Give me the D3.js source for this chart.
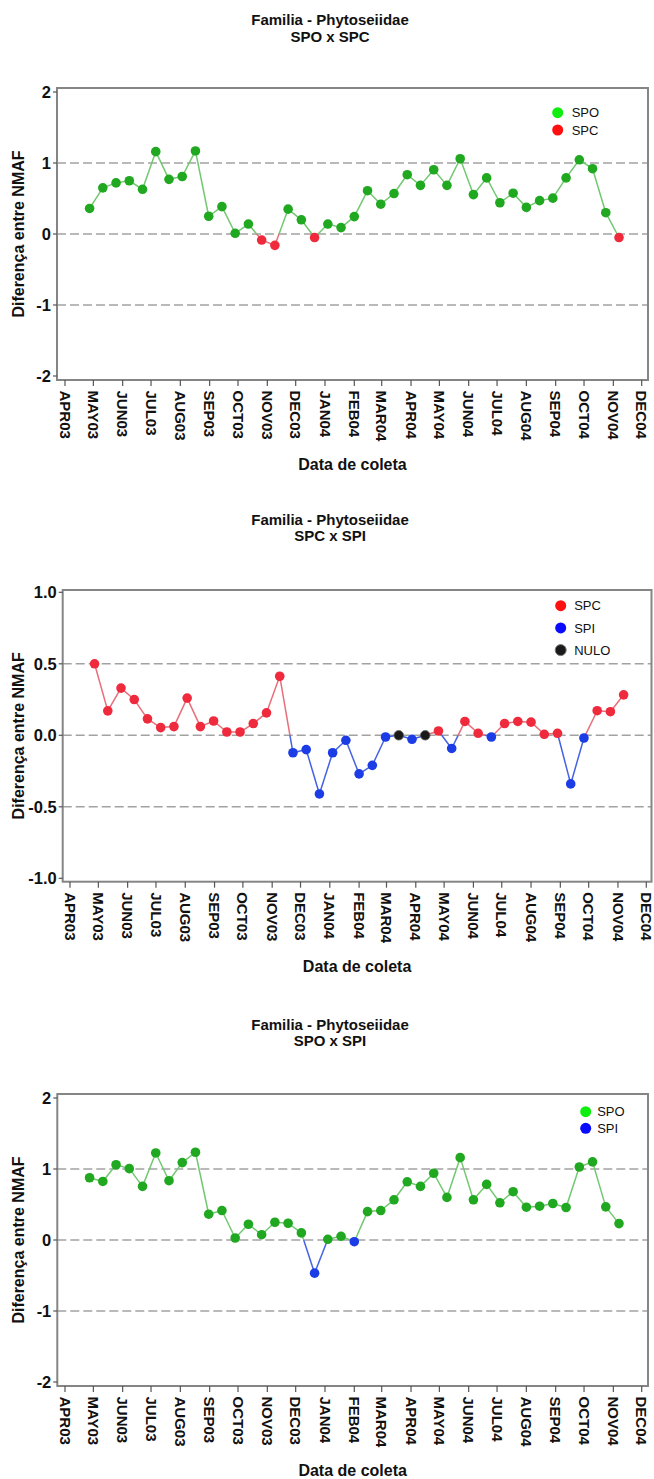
<!DOCTYPE html>
<html><head><meta charset="utf-8">
<script src="https://cdn.jsdelivr.net/npm/d3@7"></script>
<style>
body{margin:0;background:#fff}
svg{display:block}
text{font-family:Arial,"Liberation Sans",sans-serif;fill:#111}
</style>
</head><body>
<svg id="c" width="654" height="1479"></svg>
<script>
// ---- data ----
const sampleDates = ["2003-04-27","2003-05-11","2003-05-25","2003-06-08","2003-06-22","2003-07-06","2003-07-20","2003-08-03","2003-08-17","2003-08-31","2003-09-14","2003-09-28","2003-10-12","2003-10-26","2003-11-09","2003-11-23","2003-12-07","2003-12-21","2004-01-04","2004-01-18","2004-02-01","2004-02-15","2004-02-29","2004-03-14","2004-03-28","2004-04-11","2004-04-25","2004-05-09","2004-05-23","2004-06-06","2004-06-20","2004-07-04","2004-07-18","2004-08-01","2004-08-15","2004-08-29","2004-09-12","2004-09-26","2004-10-10","2004-10-24","2004-11-07"];
const monthLabels = ["APR03","MAY03","JUN03","JUL03","AUG03","SEP03","OCT03","NOV03","DEC03","JAN04","FEB04","MAR04","APR04","MAY04","JUN04","JUL04","AUG04","SEP04","OCT04","NOV04","DEC04"];
const spoVsSpc = [0.36,0.65,0.72,0.75,0.63,1.16,0.77,0.81,1.17,0.25,0.385,0.01,0.14,-0.085,-0.16,0.35,0.20,-0.05,0.14,0.09,0.245,0.61,0.42,0.57,0.835,0.685,0.905,0.685,1.06,0.555,0.79,0.44,0.575,0.375,0.47,0.505,0.79,1.045,0.92,0.30,-0.05];
const spcVsSpi = [0.50,0.171,0.33,0.25,0.115,0.054,0.061,0.26,0.061,0.10,0.023,0.023,0.082,0.157,0.413,-0.122,-0.10,-0.41,-0.122,-0.035,-0.27,-0.21,-0.012,0,-0.028,0,0.03,-0.092,0.097,0.014,-0.012,0.082,0.097,0.092,0.007,0.014,-0.34,-0.019,0.172,0.165,0.283];
const spoVsSpi = [0.877,0.825,1.06,1.005,0.755,1.226,0.835,1.09,1.236,0.363,0.415,0.028,0.222,0.075,0.25,0.236,0.10,-0.467,0.01,0.052,-0.024,0.40,0.415,0.566,0.82,0.755,0.94,0.60,1.16,0.566,0.783,0.524,0.68,0.462,0.476,0.514,0.458,1.028,1.10,0.467,0.231];
const ticksWide = [-2,-1,0,1,2];
const gridWide = [-1,0,1];
const ticksNarrow = [-1,-0.5,0,0.5,1];
const gridNarrow = [-0.5,0,0.5];
const titleLine1 = "Familia - Phytoseiidae";
const subtitles = ["SPO x SPC","SPC x SPI","SPO x SPI"];

// ---- styles ----
const COL = {
  SPO:{pt:"#20a820", ln:"#72c872", lg:"#10ee10"},
  SPC:{pt:"#ee2a3c", ln:"#e86e7a", lg:"#ff1010"},
  SPI:{pt:"#1c3ce6", ln:"#4462e2", lg:"#0a0aff"},
  NULO:{pt:"#1a1a1a", ln:"#333", lg:"#1a1a1a"}
};

const loc = d3.formatLocale({decimal:".", thousands:",", grouping:[3], currency:["",""], minus:"-"});
const parse = d3.timeParse("%Y-%m-%d");
const dates = sampleDates.map(parse);
const tickDates = d3.timeMonth.range(new Date(2003,3,1), new Date(2004,11,2));
const svg = d3.select("#c");

const panels = [
  {values:spoVsSpc, pos:"SPO", neg:"SPC", legend:["SPO","SPC"], sub:subtitles[0],
   box:{l:57,r:648,t:88,b:380}, xr:[65,641.7], ydom:[-2,2], yr:[376,92], ticks:ticksWide, grid:gridWide, fmt:loc.format("d"),
   leg:{x:557.7,y:112.7,dy:17.3,tx:14}, title:[25,42]},
  {values:spcVsSpi, pos:"SPC", neg:"SPI", legend:["SPC","SPI","NULO"], sub:subtitles[1],
   box:{l:62.7,r:651.5,t:590,b:881.7}, xr:[70,646.3], ydom:[-1,1], yr:[878.3,592.3], ticks:ticksNarrow, grid:gridNarrow, fmt:loc.format(".1f"),
   leg:{x:560.7,y:605.7,dy:22.2,tx:13.5}, title:[525,541]},
  {values:spoVsSpi, pos:"SPO", neg:"SPI", legend:["SPO","SPI"], sub:subtitles[2],
   box:{l:57.3,r:648,t:1094,b:1386}, xr:[65,641.7], ydom:[-2,2], yr:[1382,1098], ticks:ticksWide, grid:gridWide, fmt:loc.format("d"),
   leg:{x:585.7,y:1111.7,dy:16.6,tx:11.5}, title:[1030,1046]}
];

panels.forEach(p => {
  const g = svg.append("g");
  const x = d3.scaleTime().domain([new Date(2003,3,1), new Date(2004,11,1)]).range(p.xr);
  const y = d3.scaleLinear().domain(p.ydom).range(p.yr);
  const B = p.box;

  // titles
  g.append("text").attr("x",330).attr("y",p.title[0]).attr("text-anchor","middle")
    .attr("font-size",15).attr("font-weight","bold").text(titleLine1);
  g.append("text").attr("x",330).attr("y",p.title[1]).attr("text-anchor","middle")
    .attr("font-size",15).attr("font-weight","bold").text(p.sub);

  g.append("rect").attr("x",B.l).attr("y",B.t).attr("width",B.r-B.l).attr("height",B.b-B.t).attr("fill","#fff");

  // grid lines
  g.selectAll(".grid").data(p.grid).join("line")
    .attr("x1",B.l).attr("x2",B.r).attr("y1",d=>y(d)).attr("y2",d=>y(d))
    .attr("stroke","#a2a2a2").attr("stroke-width",1.5).attr("stroke-dasharray","9,4");

  // line segments, split at zero crossings
  const sideOf = v => v>0 ? p.pos : p.neg;
  const vals = p.values;
  for (let i=0;i<vals.length-1;i++){
    const v0=vals[i], v1=vals[i+1];
    const x0=x(dates[i]), x1=x(dates[i+1]);
    if (v0*v1<0){
      const t=v0/(v0-v1), xm=x0+t*(x1-x0);
      g.append("line").attr("x1",x0).attr("y1",y(v0)).attr("x2",xm).attr("y2",y(0))
        .attr("stroke",COL[sideOf(v0)].ln).attr("stroke-width",1.5);
      g.append("line").attr("x1",xm).attr("y1",y(0)).attr("x2",x1).attr("y2",y(v1))
        .attr("stroke",COL[sideOf(v1)].ln).attr("stroke-width",1.5);
    } else {
      const ref = v0!==0 ? v0 : v1;
      g.append("line").attr("x1",x0).attr("y1",y(v0)).attr("x2",x1).attr("y2",y(v1))
        .attr("stroke",COL[sideOf(ref)].ln).attr("stroke-width",1.5);
    }
  }

  // points
  g.selectAll(".pt").data(vals).join("circle")
    .attr("cx",(d,i)=>x(dates[i])).attr("cy",d=>y(d)).attr("r",4.8)
    .attr("fill",d=> d===0 ? COL.NULO.pt : COL[sideOf(d)].pt)
    .attr("stroke",d=> d===0 ? "#666" : "none").attr("stroke-width",0.8);

  // frame
  g.append("rect").attr("x",B.l).attr("y",B.t).attr("width",B.r-B.l).attr("height",B.b-B.t)
    .attr("fill","none").attr("stroke","#858585").attr("stroke-width",2);

  // y axis
  g.selectAll(".yt").data(p.ticks).join("line")
    .attr("x1",B.l-4).attr("x2",B.l).attr("y1",d=>y(d)).attr("y2",d=>y(d))
    .attr("stroke","#555").attr("stroke-width",1.2);
  g.selectAll(".yl").data(p.ticks).join("text")
    .attr("x",B.l-6).attr("y",d=>y(d)+6).attr("text-anchor","end")
    .attr("font-size",16.5).attr("font-weight","bold").text(d=>p.fmt(d));
  g.append("text").attr("transform",`translate(24,${(B.t+B.b)/2}) rotate(-90)`)
    .attr("text-anchor","middle").attr("font-size",16).attr("font-weight","bold")
    .text("Diferença entre NMAF");

  // x axis
  g.selectAll(".xt").data(tickDates).join("line")
    .attr("x1",d=>x(d)).attr("x2",d=>x(d)).attr("y1",B.b).attr("y2",B.b+6)
    .attr("stroke","#555").attr("stroke-width",1.2);
  g.selectAll(".xl").data(tickDates).join("text")
    .attr("transform",d=>`translate(${x(d)},${B.b+10.5}) rotate(90)`)
    .attr("dy","0.36em").attr("text-anchor","start")
    .attr("font-size",15).attr("font-weight","bold").text((d,i)=>monthLabels[i]);
  g.append("text").attr("x",(B.l+B.r)/2).attr("y",B.b+90).attr("text-anchor","middle")
    .attr("font-size",16).attr("font-weight","bold").text("Data de coleta");

  // legend
  p.legend.forEach((k,i)=>{
    const ly = p.leg.y + i*p.leg.dy;
    g.append("circle").attr("cx",p.leg.x).attr("cy",ly).attr("r",5.5)
      .attr("fill",COL[k].lg).attr("stroke",k==="NULO"?"#777":"none").attr("stroke-width",1);
    g.append("text").attr("x",p.leg.x+p.leg.tx).attr("y",ly+4.6)
      .attr("font-size",13).text(k);
  });
});
</script>
</body></html>
